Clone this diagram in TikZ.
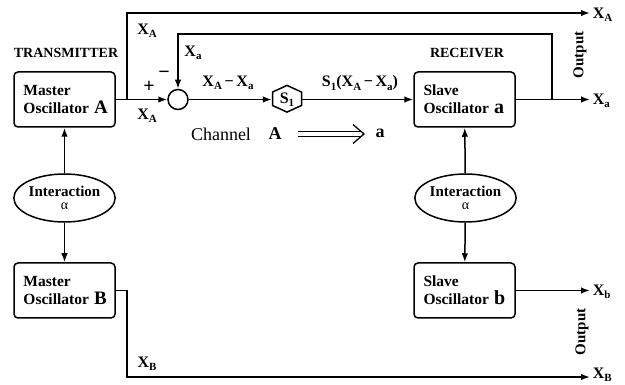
\documentclass[tikz,border=0pt]{standalone}
\usepackage{fontspec}
\setmainfont{Liberation Serif}
\usetikzlibrary{arrows.meta,shapes.geometric}
\newcommand\sbs[1]{\raisebox{-3.2pt}{\fontsize{11}{11}\selectfont #1}}
\newcommand\ind{\hspace*{5pt}}
\begin{document}
\begin{tikzpicture}[x=1pt,y=-1pt, line width=1.5pt,
  >={Latex[length=9pt,width=6.5pt]},
  box/.style={draw, rounded corners=4pt, minimum height=55pt, text width=92pt,
    inner xsep=4.5pt, align=left, font=\fontsize{15.5}{18}\selectfont\bfseries},
  inter/.style={draw, ellipse, minimum width=95pt, minimum height=48pt, inner sep=0pt,
    align=center, font=\fontsize{15}{15}\selectfont},
  lbl/.style={inner sep=0pt, font=\fontsize{16}{16}\selectfont\bfseries},
  head/.style={inner sep=0pt, font=\fontsize{14}{14}\selectfont\bfseries},
  outl/.style={inner sep=0pt, rotate=90, font=\fontsize{15}{15}\selectfont\bfseries}]
\path[use as bounding box] (0,0) rectangle (625,385);

% boxes
\node[box] (ma) at (64.5,99.5) {\ind Master\\\ind Oscillator {\fontsize{19}{18}\selectfont A}};
\node[box] (mb) at (64.5,290.5) {\ind Master\\\ind Oscillator {\fontsize{19}{18}\selectfont B}};
\node[box] (sa) at (464.5,99.5) {\ind Slave\\\ind Oscillator {\fontsize{20}{18}\selectfont a}};
\node[box] (sb) at (464.5,290.5) {\ind Slave\\\ind Oscillator {\fontsize{20}{18}\selectfont b}};
\node[inter] (ia) at (64.5,198) {\bfseries Interaction\\[-2pt]{\fontsize{14}{14}\selectfont α}};
\node[inter] (ib) at (465.5,198) {\bfseries Interaction\\[-2pt]{\fontsize{14}{14}\selectfont α}};

% summing point and channel
\node[draw, circle, minimum size=20pt, inner sep=0pt] (sum) at (178,99.5) {};
\node[minimum width=29pt, minimum height=26.7pt, inner sep=0pt, lbl] (s1) at (287,99.5) {S\sbs{1}};
\draw (s1.north) -- ++(14.5,6.65) -- ++(0,13.4) -- ++(-14.5,6.65) -- ++(-14.5,-6.65) -- ++(0,-13.4) -- cycle;

% headings
\node[head] (tx) at (66,53) {TRANSMITTER};
\node[head] (rx) at (467,53) {RECEIVER};

% coordinates
\coordinate (j1) at (127,99.5);
\coordinate (tA) at (590,13);
\coordinate (fb) at (552,99.5);
\coordinate (fbt) at (552,34);
\coordinate (oa) at (590,99.5);
\coordinate (ob) at (590,290.5);
\coordinate (jb) at (127,377);
\coordinate (oB) at (590,377);

% connectors
\draw[->] (ma.east) -- (sum.west);
\draw[->] (j1) |- (tA);
\draw[->] (sum.east) -- (s1.west);
\draw[->] (s1.east) -- (sa.west);
\draw[->] (fb) -- (fbt) -| (sum.north);
\draw[->] (sa.east) -- (oa);
\draw[->] (ia) -- (ma);
\draw[->] (ia) -- (mb);
\draw[->] (ib) -- (sa);
\draw[->] (ib) -- (sb);
\draw[->] (sb.east) -- (ob);
\draw[->] (mb.east) -| (jb) -- (oB);

% labels
\node[lbl] (l1) at (147,31) {X\sbs{A}};
\node[lbl] (l2) at (193,53) {X\sbs{a}};
\node[lbl] (l3) at (147,116) {X\sbs{A}};
\node[inner sep=0pt, font=\fontsize{20}{20}\selectfont\bfseries] (plus) at (149,87) {+};
\node[inner sep=0pt, font=\fontsize{20}{20}\selectfont\bfseries] (minus) at (164,75) {−};
\node[lbl] (l4) at (228,83) {X\sbs{A}\,−\,X\sbs{a}};
\node[lbl] (l5) at (360,83) {S\sbs{1}(X\sbs{A}\,−\,X\sbs{a})};
\node[lbl, anchor=west] (r1) at (592,15) {X\sbs{A}};
\node[lbl, anchor=west] (r2) at (592,101) {X\sbs{a}};
\node[lbl, anchor=west] (r3) at (592,292) {X\sbs{b}};
\node[lbl, anchor=west] (r4) at (592,375) {X\sbs{B}};
\node[lbl] (l6) at (147,364) {X\sbs{B}};
\node[outl] (o1) at (580,55) {Output};
\node[outl] (o2) at (582,332) {Output};

% channel
\node[inner sep=0pt, font=\fontsize{18}{18}\selectfont] (ch) at (221,134) {Channel};
\node[inner sep=0pt, font=\fontsize{18}{18}\selectfont\bfseries] (cA) at (275,134) {A};
\node[inner sep=0pt, font=\fontsize{18}{18}\selectfont\bfseries] (ca) at (380,133) {a};
\coordinate (tip) at (364,134);
\draw[double, double distance=3.4pt, line width=1.2pt, shorten <=16pt, shorten >=2pt] (cA) -- (tip);
\draw[line width=1.3pt] (tip) ++(-11,-9.5) -- (tip) -- ++(-11,9.5);
\end{tikzpicture}
\end{document}
